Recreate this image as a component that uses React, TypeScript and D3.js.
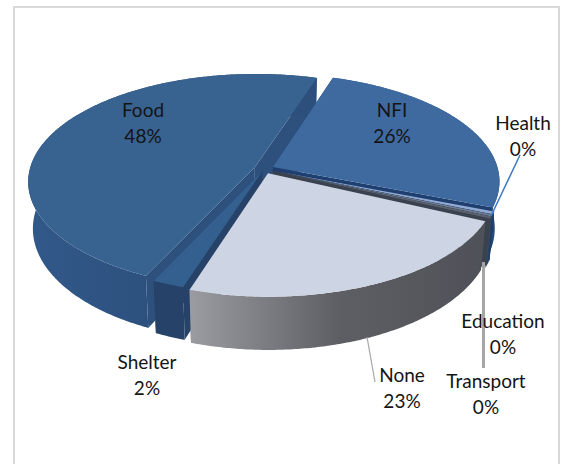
import React from "react";
import * as d3 from "d3";

const width = 566;
const height = 464;

const categories = ["Food", "NFI", "Health", "Education", "Transport", "None", "Shelter"];
const shares = [48, 26, 0.4, 0.3, 0.3, 23, 2];
const explodes = [0.044, 0.044, 0.044, 0.044, 0.044, 0.044, 0.022];
const topColors = ["#386290", "#3f6aa0", "#8fa9d2", "#6d7a90", "#5a6270", "#cdd5e5", "#34608f"];
const wallColors = ["#2d507c", "#1f3f70", "#1d3a63", "#2a3a55", "#3a4250", "#55585f", "#264268"];
const sideColors = [
  ["#31598a", "#2c4f7c"],
  ["#2f5f98", "#22426f"],
  ["#1f3d66", "#1f3d66"],
  ["#26426b", "#26426b"],
  ["#3a4658", "#3a4658"],
  ["#9b9ca1", "#5e5f65", "#4e5157"],
  ["#264268", "#264268"],
];
// back slices first
const paintOrder = [0, 1, 2, 3, 4, 6, 5];

const labelX = [143, 392, 523, 503, 486, 402, 147];
const labelY = [117, 117, 130, 328, 388, 382, 369];

const cx = 264;
const cy = 169;
const radiusX = 225;
const radiusY = 106;
const tilt = 0.131;
const depth = 46;
const bottomShrink = 0.02;

const pie = d3
  .pie<number>()
  .sort(null)
  .startAngle((205 * Math.PI) / 180)
  .endAngle((565 * Math.PI) / 180);
const slices = pie(shares);

type Pt = [number, number];

// flat disk to screen, with a bit of perspective; the lower rim is further away
function project(u: number, v: number, down = 0): Pt {
  const w = 1 / (1 - tilt * v);
  const shrink = 1 - (bottomShrink * down) / depth;
  return [cx + radiusX * u * w * shrink, cy + radiusY * v * w + down * w];
}

function diskPoint(angle: number, mid: number, r: number, ex: number, down = 0): Pt {
  const u = r * Math.sin(angle) + ex * Math.sin(mid);
  const v = -r * Math.cos(angle) + ex * -Math.cos(mid);
  return project(u, v, down);
}

const line = d3.line<Pt>();

function rimAngles(a0: number, a1: number) {
  return [...d3.range(a0, a1, 0.01), a1];
}

function topPath(a0: number, a1: number, mid: number, ex: number) {
  const pts = rimAngles(a0, a1).map((a) => diskPoint(a, mid, 1, ex));
  return line([diskPoint(0, mid, 0, ex), ...pts]) + "Z";
}

function sidePath(a0: number, a1: number, mid: number, ex: number) {
  const rim = rimAngles(a0, a1);
  const upper = rim.map((a) => diskPoint(a, mid, 1, ex));
  const lower = rim.map((a) => diskPoint(a, mid, 1, ex, depth)).reverse();
  return line([...upper, ...lower]) + "Z";
}

function radialWall(a: number, mid: number, ex: number) {
  return (
    line([
      diskPoint(0, mid, 0, ex),
      diskPoint(a, mid, 1, ex),
      diskPoint(a, mid, 1, ex, depth),
      diskPoint(0, mid, 0, ex, depth),
    ]) + "Z"
  );
}

export default function App() {
  return (
    <svg
      width={width}
      height={height}
      style={{ position: "absolute", left: 0, top: 0, background: "#fff" }}
      fontFamily="Lato, 'Noto Sans', sans-serif"
      fontSize={19}
    >
      <defs>
        {sideColors.map((c, i) => (
          <linearGradient
            key={i}
            id={"side" + i}
            gradientUnits="userSpaceOnUse"
            x1={i === 5 ? 190 : i === 1 ? 470 : 20}
            x2={i === 5 ? 485 : i === 1 ? 500 : 180}
            y1={0}
            y2={0}
          >
            {c.map((col, k) => (
              <stop key={k} offset={k / (c.length - 1)} stopColor={col} />
            ))}
          </linearGradient>
        ))}
      </defs>
      <rect x={14} y={7} width={545} height={480} fill="#fff" stroke="#d9d9d9" strokeWidth={2} />

      {paintOrder.map((i) => {
        const s = slices[i];
        const mid = (s.startAngle + s.endAngle) / 2;
        const ex = explodes[i];
        return (
          <g key={categories[i]}>
            <path d={radialWall(s.startAngle, mid, ex)} fill={wallColors[i]} />
            <path d={radialWall(s.endAngle, mid, ex)} fill={wallColors[i]} />
            <path d={sidePath(s.startAngle, s.endAngle, mid, ex)} fill={`url(#side${i})`} />
            <path d={topPath(s.startAngle, s.endAngle, mid, ex)} fill={topColors[i]} />
          </g>
        );
      })}

      {/* leader lines */}
      <line x1={491} y1={216} x2={520} y2={155} stroke="#3f78c2" strokeWidth={1.5} />
      <line x1={483.5} y1={262} x2={483.5} y2={368} stroke="#a6a6a6" strokeWidth={3} />
      <line x1={367} y1={337} x2={375} y2={382} stroke="#a6a6a6" strokeWidth={1.2} />

      {categories.map((c, i) => (
        <text key={c} textAnchor="middle" fill="#141414">
          <tspan x={labelX[i]} y={labelY[i]}>{c}</tspan>
          <tspan x={labelX[i]} y={labelY[i] + 26}>{Math.round(shares[i])}%</tspan>
        </text>
      ))}
    </svg>
  );
}
